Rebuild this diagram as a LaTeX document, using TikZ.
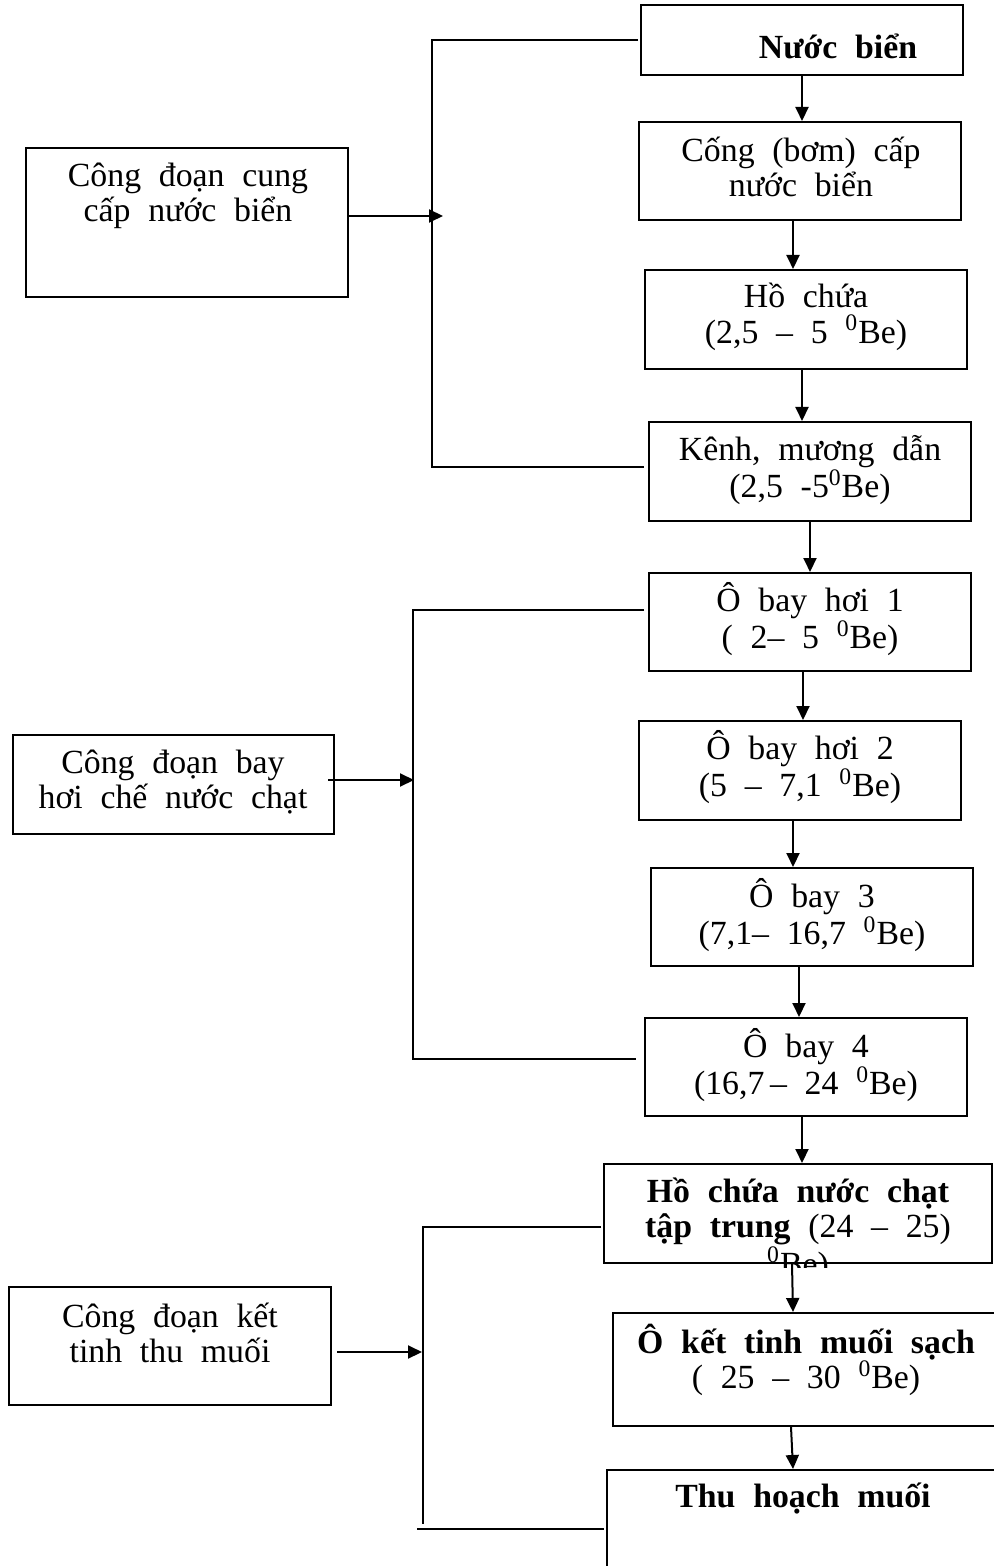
\documentclass[tikz,border=0pt]{standalone}
\usepackage{fontspec}
\setmainfont{Liberation Serif}[WordSpace=2.1]
\usetikzlibrary{arrows.meta}
\begin{document}
\begin{tikzpicture}[x=0.5pt,y=-0.5pt,
  box/.style={draw,line width=1pt,inner sep=0pt},
  txt/.style={align=center,inner sep=0pt,font=\fontsize{16.9}{17.7}\selectfont},
  txtb/.style={align=center,inner sep=0pt,font=\fontsize{16.9}{17.7}\selectfont\bfseries},
  arr/.style={line width=1pt,-{Triangle[length=7pt,width=6.5pt]}},
  ln/.style={line width=1pt}]
\useasboundingbox (0,0) rectangle (994,1566);
\clip (0,0) rectangle (994,1566);
\fill[white] (0,0) rectangle (994,1566);

% right column boxes
\node[box,minimum width=161pt,minimum height=35pt] (b1) at (802,40) {};
\node[box,minimum width=161pt,minimum height=49pt] (b2) at (800,171) {};
\node[box,minimum width=161pt,minimum height=49.5pt] (b3) at (806,319.5) {};
\node[box,minimum width=161pt,minimum height=49.5pt] (b4) at (810,471.5) {};
\node[box,minimum width=161pt,minimum height=49pt] (b5) at (810,622) {};
\node[box,minimum width=161pt,minimum height=49.5pt] (b6) at (800,770.5) {};
\node[box,minimum width=161pt,minimum height=49pt] (b7) at (812,917) {};
\node[box,minimum width=161pt,minimum height=49pt] (b8) at (806,1067) {};
\node[box,minimum width=194pt,minimum height=49.5pt] (b9) at (798,1213.5) {};
\node[box,minimum width=193.5pt,minimum height=56.5pt] (b10) at (806.5,1369.5) {};
\node[box,minimum width=196.5pt,minimum height=65pt] (b11) at (803.5,1535) {};

% left boxes
\node[box,minimum width=161pt,minimum height=74.5pt] (A) at (187,222.5) {};
\node[box,minimum width=160.5pt,minimum height=49.5pt] (B) at (173.5,784.5) {};
\node[box,minimum width=161pt,minimum height=59pt] (C) at (170,1346) {};

% texts
\node[txtb,anchor=base] (t1) at (838,59) {Nước biển};
\node[txt] (t2) at (801,167) {Cống (bơm) cấp\\nước biển};
\node[txt] (t3) at (806,317) {Hồ chứa\\(2,5 – 5 \textsuperscript{0}Be)};
\node[txt] (t4) at (810,470) {Kênh, mương dẫn\\(2,5 -5\textsuperscript{0}Be)};
\node[txt] (t5) at (810,619) {Ô bay hơi 1\\( 2– 5 \textsuperscript{0}Be)};
\node[txt] (t6) at (800,767) {Ô bay hơi 2\\(5 – 7,1 \textsuperscript{0}Be)};
\node[txt] (t7) at (812,915) {Ô bay 3\\(7,1– 16,7 \textsuperscript{0}Be)};
\node[txt] (t8) at (806,1065) {Ô bay 4\\(16,7\,– 24 \textsuperscript{0}Be)};
\begin{scope}
\clip (598,1150) rectangle (994,1267);
\node[txt] (t9) at (798,1230) {\textbf{Hồ chứa nước chạt}\\\textbf{tập trung} (24 – 25)\\\textsuperscript{0}Be)};
\end{scope}
\node[txt] (t10) at (806,1360) {\textbf{Ô kết tinh muối sạch}\\( 25 – 30 \textsuperscript{0}Be)};
\node[txtb,anchor=base] (t11) at (803,1507) {Thu hoạch muối};
\node[txt] (tA) at (188,196) {Công đoạn cung\\cấp nước biển};
\node[txt] (tB) at (173,782) {Công đoạn bay\\hơi chế nước chạt};
\node[txt] (tC) at (170,1333) {Công đoạn kết\\tinh thu muối};

% vertical arrows
\draw[arr] (b1.south) -- ([xshift=1pt]b2.north);
\draw[arr] ([xshift=-3.5pt]b2.south) -- ([xshift=-6.5pt]b3.north);
\draw[arr] ([xshift=-2pt]b3.south) -- ([xshift=-4pt]b4.north);
\draw[arr] (b4.south) -- (b5.north);
\draw[arr] ([xshift=-3.5pt]b5.south) -- ([xshift=1.5pt]b6.north);
\draw[arr] ([xshift=-3.5pt]b6.south) -- ([xshift=-9.5pt]b7.north);
\draw[arr] ([xshift=-6.5pt]b7.south) -- ([xshift=-3.5pt]b8.north);
\draw[arr] ([xshift=-2pt]b8.south) -- ([xshift=2pt]b9.north);
\draw[arr] ([xshift=-3pt]b9.south) -- ([xshift=-6.75pt]b10.north);
\draw[arr] ([xshift=-7.75pt]b10.south) -- ([xshift=-5.25pt]b11.north);

% brackets
\coordinate (k1t) at (432,40);
\coordinate (k1b) at (432,467);
\draw[ln] ([xshift=-1pt]b1.west) -- (k1t) -- (k1b) -- ([xshift=-2pt,yshift=2.25pt]b4.west);
\coordinate (k2t) at (413,610);
\coordinate (k2b) at (413,1059);
\draw[ln] ([xshift=-2pt,yshift=6pt]b5.west) -- (k2t) -- (k2b) -- ([xshift=-4pt,yshift=4pt]b8.west);
\coordinate (k3t) at (423,1227);
\coordinate (k3v) at (423,1524);
\coordinate (k3b) at (417,1529);
\draw[ln] ([xshift=-1pt,yshift=-6.75pt]b9.west) -- (k3t) -- (k3v);
\draw[ln] (k3b) -- ([xshift=-1pt,yshift=3pt]b11.west);

% stage arrows
\draw[arr] ([yshift=3.25pt]A.east) -- ++(94,0);
\draw[arr] ([xshift=-3.5pt,yshift=2.25pt]B.east) -- ++(86,0);
\draw[arr] ([xshift=2.5pt,yshift=-3pt]C.east) -- ++(85,0);
\end{tikzpicture}
\end{document}
